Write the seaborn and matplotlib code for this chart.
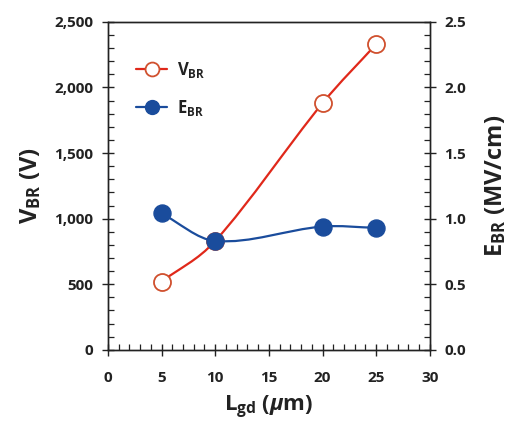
import numpy as np
import pandas as pd
import seaborn as sns
import matplotlib
matplotlib.use("Agg")
import matplotlib.pyplot as plt
from matplotlib.path import Path
from matplotlib.patches import PathPatch
from matplotlib.lines import Line2D
from matplotlib.ticker import MultipleLocator, FuncFormatter

# ---- data ----
lgd = [5, 10, 20, 25]
vbr = [520, 830, 1880, 2330]          # V
ebr = [1.04, 0.83, 0.94, 0.93]        # MV/cm

sns.set_style("ticks")
plt.rcParams['font.family'] = ['Open Sans', 'DejaVu Sans']
plt.rcParams['font.weight'] = 'bold'
plt.rcParams['mathtext.fontset'] = 'custom'
plt.rcParams['mathtext.rm'] = 'Open Sans:bold'
plt.rcParams['mathtext.bf'] = 'Open Sans:bold'
plt.rcParams['mathtext.it'] = 'Open Sans:bold:italic'

RED = '#e0281a'
REDM = '#d0502e'
BLUE = '#1a4c9c'
TXT = '#222222'

fig = plt.figure(figsize=(5.16, 4.21), dpi=100)
ax = fig.add_axes([0.209, 0.169, 0.624, 0.779])
ax2 = ax.twinx()

def smooth_path(xs, ys):
    """Cubic Hermite curve through the data points, drawn as Bezier segments."""
    x = np.asarray(xs, float); y = np.asarray(ys, float)
    n = len(x)
    m = np.empty(n)
    m[0] = (y[1] - y[0]) / (x[1] - x[0])
    m[-1] = (y[-1] - y[-2]) / (x[-1] - x[-2])
    for i in range(1, n - 1):
        m[i] = (y[i + 1] - y[i - 1]) / (x[i + 1] - x[i - 1])
    verts = [(x[0], y[0])]
    codes = [Path.MOVETO]
    for i in range(n - 1):
        dx = x[i + 1] - x[i]
        verts += [(x[i] + dx / 3, y[i] + m[i] * dx / 3),
                  (x[i + 1] - dx / 3, y[i + 1] - m[i + 1] * dx / 3),
                  (x[i + 1], y[i + 1])]
        codes += [Path.CURVE4] * 3
    return Path(verts, codes)

df = pd.DataFrame({'Lgd': lgd, 'VBR': vbr, 'EBR': ebr})

# red curve + open markers (V)
ax.add_patch(PathPatch(smooth_path(lgd, vbr), fill=False, edgecolor=RED, lw=1.6, zorder=2))
sns.scatterplot(data=df, x='Lgd', y='VBR', ax=ax, marker='o', s=150,
                facecolor='white', edgecolor=REDM, linewidth=1.3, zorder=3, legend=False)

# blue curve + filled markers (E)
ax2.add_patch(PathPatch(smooth_path(lgd, ebr), fill=False, edgecolor=BLUE, lw=1.6, zorder=2))
sns.scatterplot(data=df, x='Lgd', y='EBR', ax=ax2, marker='o', s=150,
                color=BLUE, edgecolor=BLUE, linewidth=1.0, zorder=3, legend=False)

ax.set_xlim(0, 30)
ax.set_ylim(0, 2500)
ax2.set_ylim(0, 2.5)

ax.xaxis.set_major_locator(MultipleLocator(5))
ax.xaxis.set_minor_locator(MultipleLocator(1))
ax.yaxis.set_major_locator(MultipleLocator(500))
ax.yaxis.set_minor_locator(MultipleLocator(100))
ax2.yaxis.set_major_locator(MultipleLocator(0.5))
ax2.yaxis.set_minor_locator(MultipleLocator(0.1))
ax.yaxis.set_major_formatter(FuncFormatter(lambda v, p: f"{int(v):,}"))
ax2.yaxis.set_major_formatter(FuncFormatter(lambda v, p: f"{v:.1f}"))

for a in (ax, ax2):
    for s in a.spines.values():
        s.set_visible(True)
        s.set_linewidth(1.0)
        s.set_color('#222222')
ax.tick_params(axis='both', which='major', direction='inout', length=9, width=1.0,
               labelsize=11, labelcolor=TXT, color='#222222')
ax.tick_params(axis='both', which='minor', direction='in', length=4, width=0.9, color='#222222')
ax2.tick_params(axis='y', which='major', direction='inout', length=9, width=1.0,
                labelsize=11, labelcolor=TXT, color='#222222')
ax2.tick_params(axis='y', which='minor', direction='in', length=4, width=0.9, color='#222222')
ax.tick_params(axis='x', pad=11)
ax.tick_params(axis='y', pad=6)
ax2.tick_params(axis='y', pad=6)
for lab in ax.get_xticklabels() + ax.get_yticklabels() + ax2.get_yticklabels():
    lab.set_fontweight('bold')

ax.set_xlabel(r'L$_{\mathrm{gd}}$ ($\mathit{\mu}$m)', fontsize=16, fontweight='bold', color=TXT, labelpad=6)
ax.set_ylabel(r'V$_{\mathrm{BR}}$ (V)', fontsize=17, fontweight='bold', color=TXT, labelpad=8)
ax2.set_ylabel(r'E$_{\mathrm{BR}}$ (MV/cm)', fontsize=17, fontweight='bold', color=TXT, labelpad=12)

handles = [
    Line2D([], [], color=RED, lw=1.6, marker='o', markersize=10, markerfacecolor='white',
           markeredgecolor=REDM, markeredgewidth=1.3),
    Line2D([], [], color=BLUE, lw=1.6, marker='o', markersize=10, markerfacecolor=BLUE,
           markeredgecolor=BLUE),
]
leg = ax.legend(handles, [r'V$_{\mathrm{BR}}$', r'E$_{\mathrm{BR}}$'], loc='upper left',
                bbox_to_anchor=(0.04, 0.93), frameon=False, fontsize=12, handlelength=1.9,
                labelspacing=1.1, handletextpad=0.6)
for t in leg.get_texts():
    t.set_color(TXT)

fig.savefig('out.png', dpi=100)
